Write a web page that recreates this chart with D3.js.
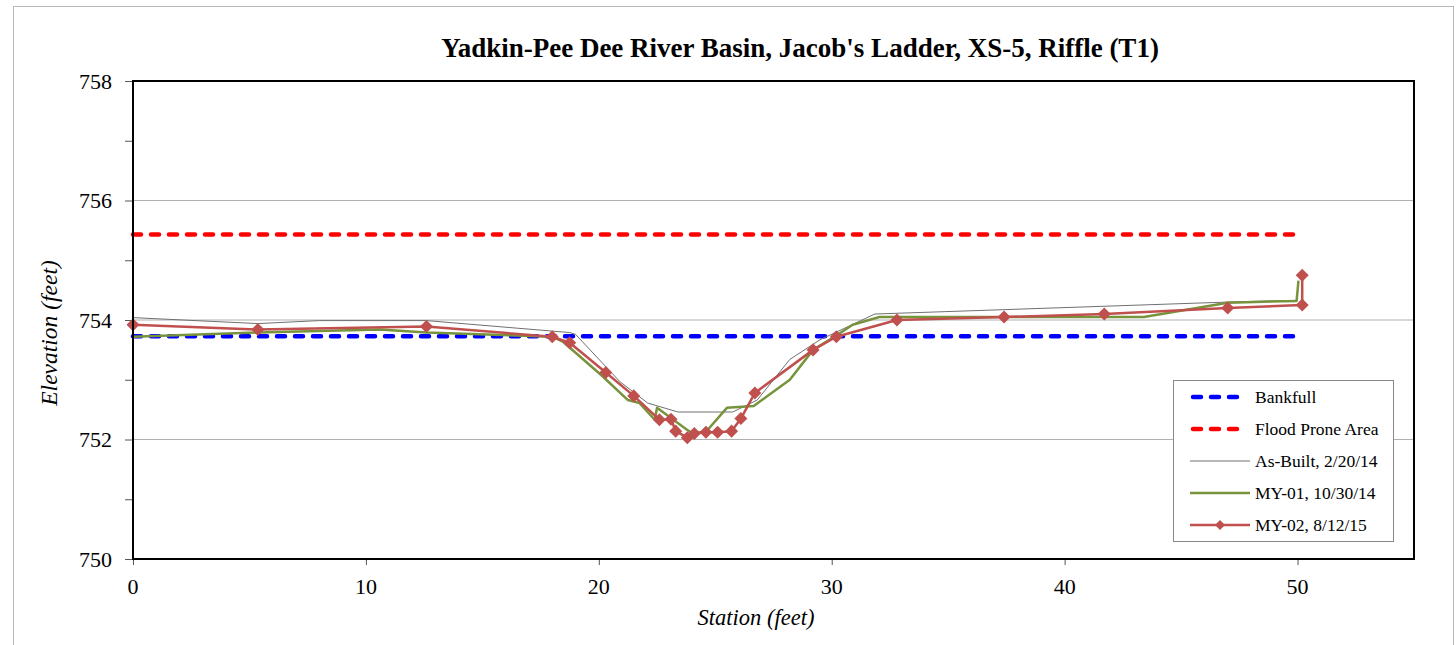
<!DOCTYPE html>
<html>
<head>
<meta charset="utf-8">
<script src="https://cdn.jsdelivr.net/npm/d3@7"></script>
<style>
  body { margin: 0; background: #fff; }
  text { font-family: "Times New Roman", "Liberation Serif", serif; fill: #000; }
</style>
</head>
<body>
<svg id="canvas"></svg>
<script>
const WIDTH = 1456;
const HEIGHT = 645;

// chart data (station ft, elevation ft)
const bankfull = 753.73;
const floodProne = 755.43;
const levelStations = [0, 50.2];

const asBuiltStation = [0, 5.36, 8.0, 12.6, 18.75, 19.0, 20.9, 22.1, 23.4, 25.75, 26.8, 28.2, 29.5, 31.85, 47.0, 49.96];
const asBuiltElev = [754.04, 753.94, 753.99, 753.99, 753.79, 753.76, 752.97, 752.61, 752.46, 752.46, 752.66, 753.34, 753.67, 754.1, 754.3, 754.33];

const my01Station = [0, 5.36, 10.6, 12.6, 18.0, 18.45, 20.1, 21.25, 21.75, 22.4, 22.5, 23.8, 24.0, 24.6, 25.5, 26.65, 28.2, 29.2, 30.2, 30.9, 32.05, 43.4, 47.0, 49.96, 50.04];
const my01Elev = [753.72, 753.79, 753.84, 753.79, 753.72, 753.64, 753.08, 752.66, 752.61, 752.33, 752.53, 752.16, 752.11, 752.13, 752.53, 752.56, 753.0, 753.5, 753.74, 753.92, 754.05, 754.05, 754.29, 754.32, 754.66];

const my02Station = [0, 5.36, 12.6, 18.0, 18.75, 20.3, 21.5, 22.6, 23.1, 23.3, 23.8, 24.1, 24.6, 25.1, 25.7, 26.1, 26.7, 29.2, 30.2, 32.8, 37.4, 41.7, 47.0, 50.2, 50.2];
const my02Elev = [753.92, 753.84, 753.89, 753.72, 753.62, 753.12, 752.73, 752.33, 752.34, 752.14, 752.03, 752.1, 752.12, 752.12, 752.14, 752.35, 752.78, 753.5, 753.72, 754.0, 754.05, 754.1, 754.2, 754.25, 754.75];

const xTicks = [0, 10, 20, 30, 40, 50];
const yTicks = [750, 752, 754, 756, 758];
const yMinorTicks = [750, 751, 752, 753, 754, 755, 756, 757, 758];

const legendNames = ["Bankfull", "Flood Prone Area", "As-Built, 2/20/14", "MY-01, 10/30/14", "MY-02, 8/12/15"];

const toPoints = (xs, ys) => xs.map((x, i) => [x, ys[i]]);

// plot box
const PLOT_LEFT = 133, PLOT_RIGHT = 1414, PLOT_TOP = 81, PLOT_BOTTOM = 559;

const scaleX = d3.scaleLinear([0, 55], [PLOT_LEFT, PLOT_RIGHT]);
const scaleY = d3.scaleLinear([750, 758], [PLOT_BOTTOM, PLOT_TOP]);

const canvas = d3.select('#canvas')
    .attr('width', WIDTH)
    .attr('height', HEIGHT);

// outer chart border
canvas.append('rect')
    .attr('x', 13.5).attr('y', 6.5)
    .attr('width', 1440).attr('height', 700)
    .attr('fill', 'none')
    .attr('stroke', '#b8b8b8');

// gridlines
canvas.append('g')
    .selectAll('line')
    .data(yTicks.slice(1, -1))
    .enter()
    .append('line')
    .attr('x1', PLOT_LEFT).attr('x2', PLOT_RIGHT)
    .attr('y1', d => scaleY(d)).attr('y2', d => scaleY(d))
    .attr('stroke', '#b0b0b0')
    .attr('stroke-width', 1);

// y axis: minor ticks every foot, labels every two
const yAxis = canvas.append('g')
    .attr('transform', `translate(${PLOT_LEFT},0)`)
    .call(d3.axisLeft(scaleY).tickValues(yMinorTicks).tickSize(8).tickFormat(''));
yAxis.select('.domain').remove();
yAxis.selectAll('line').attr('stroke', '#555');

canvas.append('g')
    .selectAll('text')
    .data(yTicks)
    .enter()
    .append('text')
    .attr('x', 112)
    .attr('y', d => scaleY(d) + 7.5)
    .attr('text-anchor', 'end')
    .style('font-size', '22px')
    .text(d => d);

// x axis
const xAxis = canvas.append('g')
    .attr('transform', `translate(0,${PLOT_BOTTOM})`)
    .call(d3.axisBottom(scaleX).tickValues(xTicks).tickSize(6).tickFormat(''));
xAxis.select('.domain').remove();
xAxis.selectAll('line').attr('stroke', '#555');

canvas.append('g')
    .selectAll('text')
    .data(xTicks)
    .enter()
    .append('text')
    .attr('x', d => scaleX(d))
    .attr('y', 594)
    .attr('text-anchor', 'middle')
    .style('font-size', '22px')
    .text(d => d);

const line = d3.line()
    .x(d => scaleX(d[0]))
    .y(d => scaleY(d[1]));

const plot = canvas.append('g');

// level lines
plot.append('path')
    .attr('d', line(levelStations.map(s => [s, bankfull])))
    .attr('fill', 'none')
    .attr('stroke', '#0000ff')
    .attr('stroke-width', 4.5)
    .attr('stroke-linecap', 'round')
    .attr('stroke-dasharray', '8,10');

plot.append('path')
    .attr('d', line(levelStations.map(s => [s, floodProne])))
    .attr('fill', 'none')
    .attr('stroke', '#ff0000')
    .attr('stroke-width', 4.5)
    .attr('stroke-linecap', 'round')
    .attr('stroke-dasharray', '8,10');

// surveys
plot.append('path')
    .attr('d', line(toPoints(asBuiltStation, asBuiltElev)))
    .attr('fill', 'none')
    .attr('stroke', '#707070')
    .attr('stroke-width', 1);

plot.append('path')
    .attr('d', line(toPoints(my01Station, my01Elev)))
    .attr('fill', 'none')
    .attr('stroke', '#77933c')
    .attr('stroke-width', 2.5)
    .attr('stroke-linejoin', 'round');

const my02 = toPoints(my02Station, my02Elev);
plot.append('path')
    .attr('d', line(my02))
    .attr('fill', 'none')
    .attr('stroke', '#c0504d')
    .attr('stroke-width', 2.5)
    .attr('stroke-linejoin', 'round');

const diamond = d3.symbol(d3.symbolSquare, 85);
plot.selectAll('.marker')
    .data(my02)
    .enter()
    .append('path')
    .attr('class', 'marker')
    .attr('d', diamond)
    .attr('transform', d => `translate(${scaleX(d[0])},${scaleY(d[1])}) rotate(45)`)
    .attr('fill', '#c0504d');

// plot frame
canvas.append('rect')
    .attr('x', PLOT_LEFT).attr('y', PLOT_TOP)
    .attr('width', PLOT_RIGHT - PLOT_LEFT).attr('height', PLOT_BOTTOM - PLOT_TOP)
    .attr('fill', 'none')
    .attr('stroke', '#000')
    .attr('stroke-width', 2);

// title and axis labels
canvas.append('text')
    .attr('x', 800).attr('y', 57)
    .attr('text-anchor', 'middle')
    .style('font-size', '27px')
    .style('font-weight', 'bold')
    .text("Yadkin-Pee Dee River Basin, Jacob's Ladder, XS-5, Riffle (T1)");

canvas.append('text')
    .attr('x', 756).attr('y', 625)
    .attr('text-anchor', 'middle')
    .style('font-size', '22.5px')
    .style('font-style', 'italic')
    .text('Station (feet)');

canvas.append('text')
    .attr('transform', 'translate(57,333) rotate(-90)')
    .attr('text-anchor', 'middle')
    .style('font-size', '23.5px')
    .style('font-style', 'italic')
    .text('Elevation (feet)');

// legend
const legend = canvas.append('g');
legend.append('rect')
    .attr('x', 1173.5).attr('y', 380.5)
    .attr('width', 220).attr('height', 161)
    .attr('fill', '#fff')
    .attr('stroke', '#888');

const legendStyles = [
    { color: '#0000ff', width: 4.5, dash: '8,10' },
    { color: '#ff0000', width: 4.5, dash: '8,10' },
    { color: '#707070', width: 1, dash: null },
    { color: '#77933c', width: 2.5, dash: null },
    { color: '#c0504d', width: 2.5, dash: null, marker: true }
];

legendNames.forEach((name, i) => {
    const y = 397 + i * 32;
    const st = legendStyles[i];
    legend.append('line')
        .attr('x1', st.dash ? 1193 : 1190).attr('x2', st.dash ? 1247 : 1250)
        .attr('y1', y).attr('y2', y)
        .attr('stroke', st.color)
        .attr('stroke-width', st.width)
        .attr('stroke-linecap', st.dash ? 'round' : 'butt')
        .attr('stroke-dasharray', st.dash);
    if (st.marker) {
        legend.append('path')
            .attr('d', d3.symbol(d3.symbolSquare, 50)())
            .attr('transform', `translate(1220,${y}) rotate(45)`)
            .attr('fill', st.color);
    }
    legend.append('text')
        .attr('x', 1255)
        .attr('y', y + 6)
        .style('font-size', '17.5px')
        .text(name);
});
</script>
</body>
</html>
